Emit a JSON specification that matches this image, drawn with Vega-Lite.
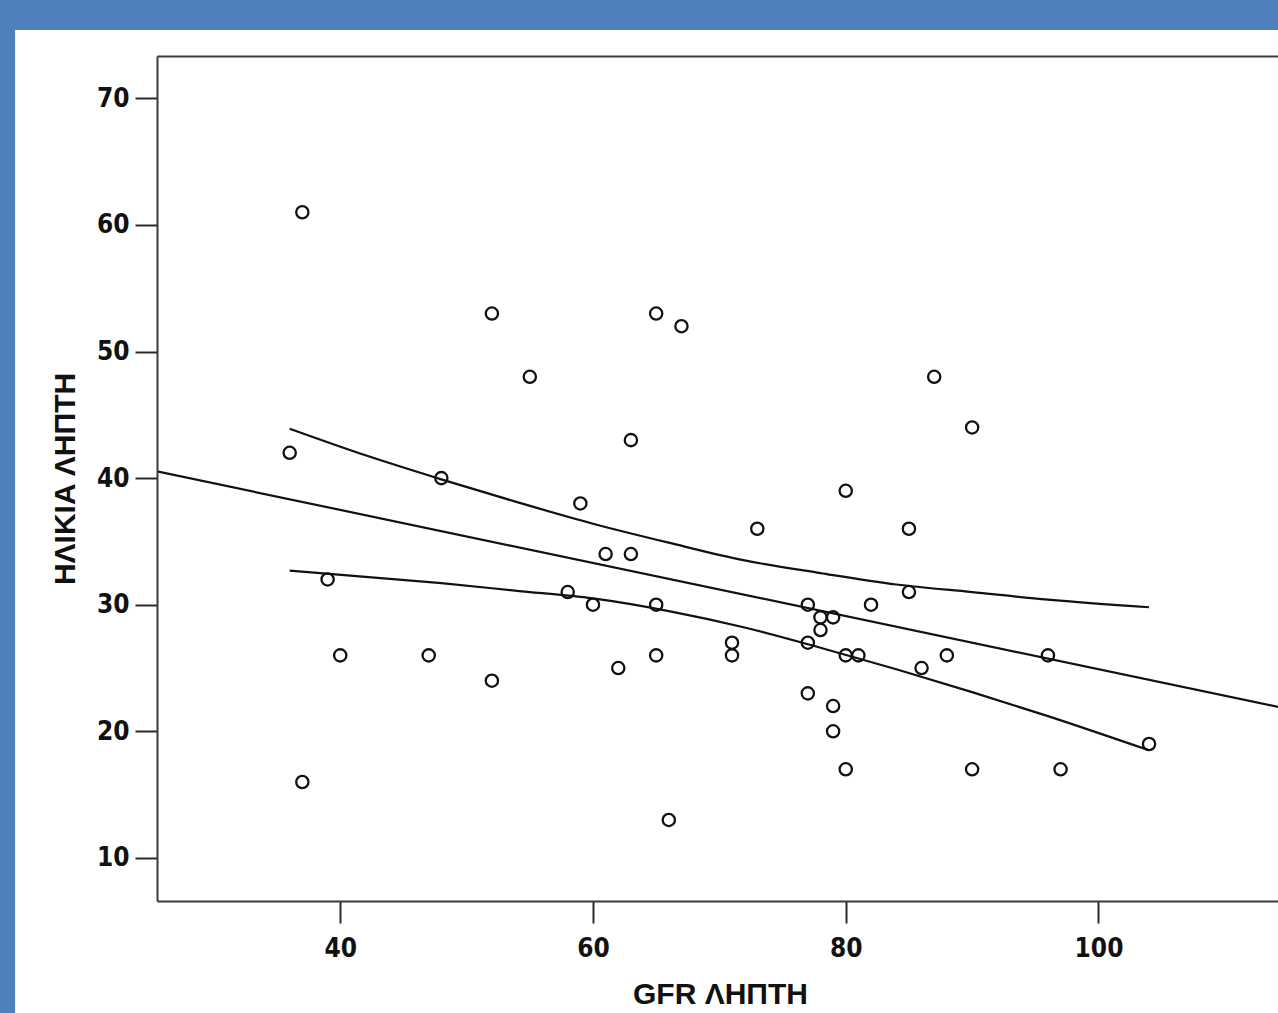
{
  "$schema": "https://vega.github.io/schema/vega-lite/v6.json",
  "width": 1126,
  "height": 845,
  "autosize": "none",
  "padding": {"left": 157, "top": 56, "right": 0, "bottom": 112},
  "background": "#4f81bd",
  "config": {"view": {"stroke": null}},
  "datasets": {
    "points": [
      {"gfr": 37, "age": 61}, {"gfr": 36, "age": 42}, {"gfr": 39, "age": 32}, {"gfr": 40, "age": 26},
      {"gfr": 37, "age": 16}, {"gfr": 48, "age": 40}, {"gfr": 47, "age": 26}, {"gfr": 52, "age": 53},
      {"gfr": 52, "age": 24}, {"gfr": 55, "age": 48}, {"gfr": 59, "age": 38}, {"gfr": 58, "age": 31},
      {"gfr": 60, "age": 30}, {"gfr": 61, "age": 34}, {"gfr": 63, "age": 34}, {"gfr": 63, "age": 43},
      {"gfr": 62, "age": 25}, {"gfr": 65, "age": 53}, {"gfr": 67, "age": 52}, {"gfr": 65, "age": 30},
      {"gfr": 65, "age": 26}, {"gfr": 66, "age": 13}, {"gfr": 71, "age": 27}, {"gfr": 71, "age": 26},
      {"gfr": 73, "age": 36}, {"gfr": 77, "age": 30}, {"gfr": 77, "age": 27}, {"gfr": 77, "age": 23},
      {"gfr": 78, "age": 29}, {"gfr": 78, "age": 28}, {"gfr": 79, "age": 29}, {"gfr": 79, "age": 22},
      {"gfr": 79, "age": 20}, {"gfr": 80, "age": 39}, {"gfr": 80, "age": 26}, {"gfr": 81, "age": 26},
      {"gfr": 80, "age": 17}, {"gfr": 82, "age": 30}, {"gfr": 85, "age": 36}, {"gfr": 85, "age": 31},
      {"gfr": 86, "age": 25}, {"gfr": 87, "age": 48}, {"gfr": 88, "age": 26}, {"gfr": 90, "age": 44},
      {"gfr": 90, "age": 17}, {"gfr": 96, "age": 26}, {"gfr": 97, "age": 17}, {"gfr": 104, "age": 19}
    ],
    "fit": [
      {"gfr": 25.5, "age": 40.53}, {"gfr": 114.6, "age": 21.85}
    ],
    "ci": [
      {"gfr": 36, "bound": "upper", "age": 43.9}, {"gfr": 42, "bound": "upper", "age": 41.8},
      {"gfr": 48, "bound": "upper", "age": 39.9}, {"gfr": 54, "bound": "upper", "age": 38.1},
      {"gfr": 60, "bound": "upper", "age": 36.4}, {"gfr": 66, "bound": "upper", "age": 34.9},
      {"gfr": 72, "bound": "upper", "age": 33.5}, {"gfr": 78, "bound": "upper", "age": 32.5},
      {"gfr": 84, "bound": "upper", "age": 31.6}, {"gfr": 90, "bound": "upper", "age": 31.0},
      {"gfr": 96, "bound": "upper", "age": 30.4}, {"gfr": 104, "bound": "upper", "age": 29.8},
      {"gfr": 36, "bound": "lower", "age": 32.7}, {"gfr": 42, "bound": "lower", "age": 32.2},
      {"gfr": 48, "bound": "lower", "age": 31.7}, {"gfr": 54, "bound": "lower", "age": 31.1},
      {"gfr": 60, "bound": "lower", "age": 30.5}, {"gfr": 66, "bound": "lower", "age": 29.5},
      {"gfr": 72, "bound": "lower", "age": 28.2}, {"gfr": 78, "bound": "lower", "age": 26.6},
      {"gfr": 84, "bound": "lower", "age": 24.9}, {"gfr": 90, "bound": "lower", "age": 23.1},
      {"gfr": 96, "bound": "lower", "age": 21.2}, {"gfr": 104, "bound": "lower", "age": 18.5}
    ]
  },
  "resolve": {"axis": {"x": "independent", "y": "independent"}},
  "layer": [
    {
      "data": {"values": [{}]},
      "mark": {"type": "rect", "fill": "white", "clip": false},
      "encoding": {
        "x": {"datum": 14.27, "type": "quantitative", "scale": {"domain": [25.5, 114.6], "nice": false, "zero": false},
              "axis": {"orient": "top", "labels": false, "ticks": false, "title": null, "grid": false, "domain": true, "domainColor": "#3a3a3a", "domainWidth": 2, "zindex": 2}},
        "x2": {"datum": 140},
        "y": {"datum": 75.39, "type": "quantitative", "scale": {"domain": [6.6, 73.34], "nice": false, "zero": false}, "axis": null},
        "y2": {"datum": -20}
      }
    },
    {
      "data": {"name": "ci"},
      "mark": {"type": "line", "color": "#111111", "strokeWidth": 2.2, "interpolate": "monotone", "clip": true},
      "encoding": {
        "x": {"field": "gfr", "type": "quantitative", "scale": {"domain": [25.5, 114.6], "nice": false, "zero": false}, "axis": null},
        "y": {"field": "age", "type": "quantitative", "scale": {"domain": [6.6, 73.34], "nice": false, "zero": false}, "axis": null},
        "detail": {"field": "bound"}
      }
    },
    {
      "data": {"name": "fit"},
      "mark": {"type": "line", "color": "#111111", "strokeWidth": 2.2, "clip": true},
      "encoding": {
        "x": {"field": "gfr", "type": "quantitative", "scale": {"domain": [25.5, 114.6], "nice": false, "zero": false}, "axis": null},
        "y": {"field": "age", "type": "quantitative", "scale": {"domain": [6.6, 73.34], "nice": false, "zero": false}, "axis": null}
      }
    },
    {
      "data": {"name": "points"},
      "mark": {"type": "point", "shape": "circle", "filled": false, "color": "#111111", "strokeWidth": 2.3, "size": 150, "opacity": 1},
      "encoding": {
        "x": {"field": "gfr", "type": "quantitative", "scale": {"domain": [25.5, 114.6], "nice": false, "zero": false},
              "axis": {"orient": "bottom", "values": [40, 60, 80, 100], "grid": false, "zindex": 2,
                       "domainColor": "#3a3a3a", "domainWidth": 2, "tickColor": "#2a2a2a", "tickWidth": 2, "tickSize": 22,
                       "labelFont": "DejaVu Sans Condensed", "labelFontWeight": "bold", "labelFontSize": 26, "labelColor": "#111", "labelPadding": 12,
                       "title": "GFR ΛΗΠΤΗ", "titleFont": "Liberation Sans", "titleFontWeight": "bold", "titleFontSize": 30, "titleColor": "#111", "titlePadding": 18}},
        "y": {"field": "age", "type": "quantitative", "scale": {"domain": [6.6, 73.34], "nice": false, "zero": false},
              "axis": {"orient": "left", "values": [10, 20, 30, 40, 50, 60, 70], "grid": false, "zindex": 2,
                       "domainColor": "#3a3a3a", "domainWidth": 2, "tickColor": "#2a2a2a", "tickWidth": 2, "tickSize": 22,
                       "labelFont": "DejaVu Sans Condensed", "labelFontWeight": "bold", "labelFontSize": 26, "labelColor": "#111", "labelPadding": 6,
                       "title": "ΗΛΙΚΙΑ ΛΗΠΤΗ", "titleFont": "Liberation Sans", "titleFontWeight": "bold", "titleFontSize": 30, "titleColor": "#111", "titlePadding": 16}}
      }
    }
  ]
}
